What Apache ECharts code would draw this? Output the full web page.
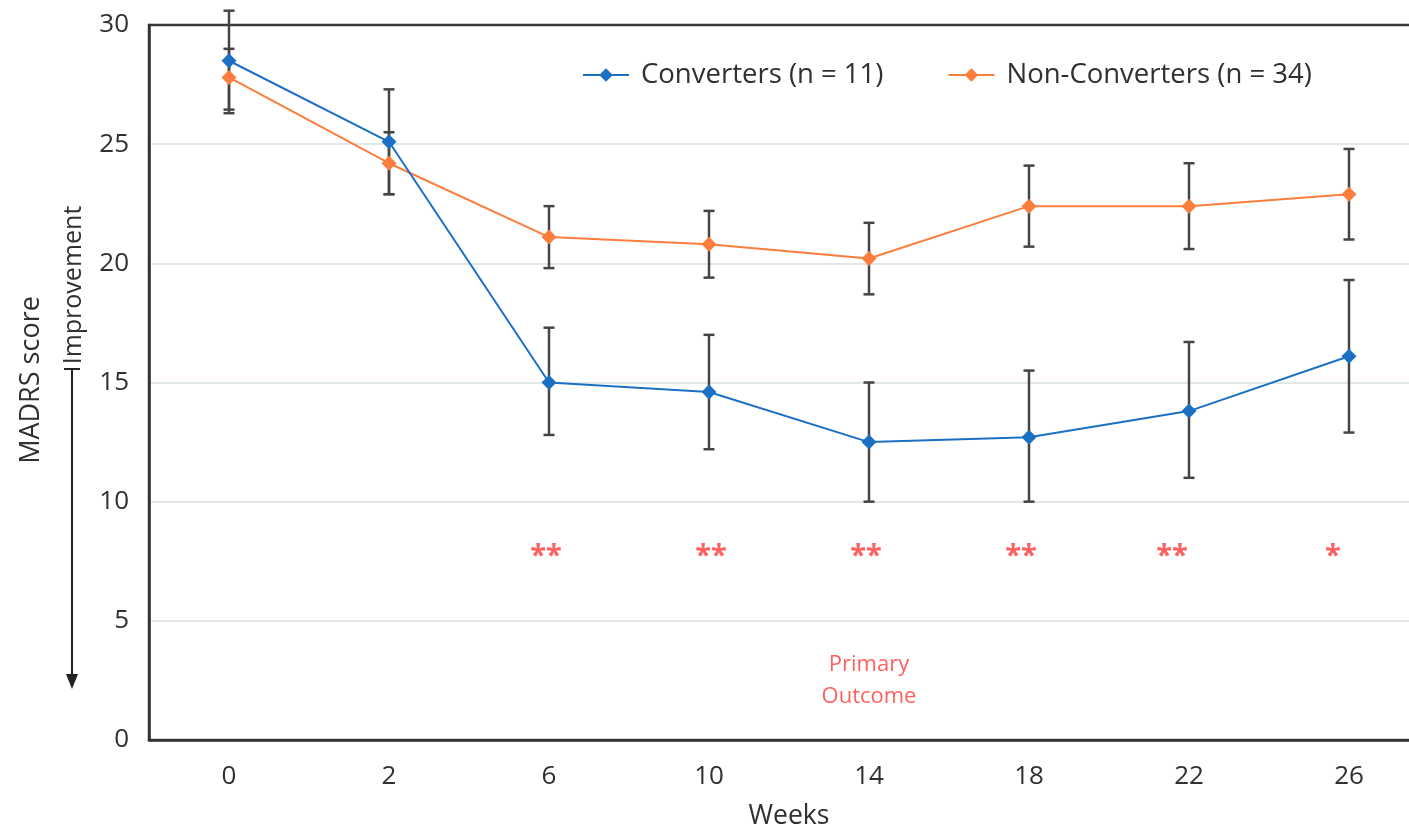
<!DOCTYPE html>
<html>
<head>
<meta charset="utf-8">
<script src="https://cdn.jsdelivr.net/npm/echarts@6/dist/echarts.min.js"></script>
<style>html,body{margin:0;padding:0;background:#fff;overflow:hidden;}#c{width:1429px;height:828px;}</style>
</head>
<body>
<div id="c"></div>
<script>
const weeks = ['0', '2', '6', '10', '14', '18', '22', '26'];
const converters = [28.5, 25.1, 15.0, 14.6, 12.5, 12.7, 13.8, 16.1];
const convUpper = [30.6, 27.3, 17.3, 17.0, 15.0, 15.5, 16.7, 19.3];
const convLower = [26.3, 22.9, 12.8, 12.2, 10.0, 10.0, 11.0, 12.9];
const nonConverters = [27.8, 24.2, 21.1, 20.8, 20.2, 22.4, 22.4, 22.9];
const nonUpper = [29.0, 25.5, 22.4, 22.2, 21.7, 24.1, 24.2, 24.8];
const nonLower = [26.45, 22.9, 19.8, 19.4, 18.7, 20.7, 20.6, 21.0];
const stars = ['', '', '**', '**', '**', '**', '**', '*'];
const starLevel = 8;
const yTicks = [0, 5, 10, 15, 20, 25, 30];
const noteText = 'Primary\nOutcome';
const noteWeekIndex = 4;
const noteLevel = 2.5;

const FONT = '"Open Sans", "Noto Sans", sans-serif';
const TXT = '#303030';
const BLUE = '#1c70c4';
const ORANGE = '#fc7d3c';
const RED = '#ff3838';
const starOffsets = [0, 0, -3, 2, -3, -8, -17, -16];

const chart = echarts.init(document.getElementById('c'), null, {renderer: 'canvas'});

function errData(lo, hi) {
  return lo.map((v, i) => [i, v, hi[i]]);
}
function errRender(params, api) {
  const x = api.value(0);
  const lo = api.coord([x, api.value(1)]);
  const hi = api.coord([x, api.value(2)]);
  const w = 5.5;
  const st = {stroke: '#454545', lineWidth: 2.5};
  return {
    type: 'group',
    children: [
      {type: 'line', shape: {x1: lo[0], y1: lo[1], x2: hi[0], y2: hi[1]}, style: st},
      {type: 'line', shape: {x1: lo[0] - w, y1: lo[1], x2: lo[0] + w, y2: lo[1]}, style: st},
      {type: 'line', shape: {x1: hi[0] - w, y1: hi[1], x2: hi[0] + w, y2: hi[1]}, style: st}
    ]
  };
}

const option = {
  animation: false,
  textStyle: {fontFamily: FONT},
  grid: {
    left: 149, right: 0, top: 25, bottom: 88,
    outerBoundsMode: 'none', containLabel: false,
    show: true, borderColor: '#383838', borderWidth: 2.5, backgroundColor: 'transparent'
  },
  legend: {
    top: 56, left: 577,
    itemWidth: 46, itemHeight: 17, itemGap: 64,
    textStyle: {fontSize: 27.5, color: TXT, fontFamily: FONT, padding: [0, 0, 0, 7]},
    data: ['Converters (n = 11)', 'Non-Converters (n = 34)']
  },
  xAxis: {
    type: 'category',
    data: weeks,
    boundaryGap: true,
    axisLine: {lineStyle: {color: '#333', width: 2.5}},
    axisTick: {show: false},
    axisLabel: {fontSize: 26, color: TXT, margin: 24, fontFamily: FONT},
    name: 'Weeks',
    nameLocation: 'middle',
    nameGap: 63,
    nameTextStyle: {fontSize: 26.5, color: TXT, fontFamily: FONT}
  },
  yAxis: {
    type: 'value',
    min: yTicks[0], max: yTicks[yTicks.length - 1], interval: yTicks[1] - yTicks[0],
    axisLine: {show: true, lineStyle: {color: '#333', width: 2.5}},
    axisTick: {show: false},
    axisLabel: {fontSize: 26, color: TXT, margin: 20, fontFamily: FONT},
    splitLine: {showMinLine: false, showMaxLine: false, lineStyle: {color: '#d6e0e0', width: 1.5}}
  },
  graphic: [
    {type: 'text', x: 31, y: 380, rotation: Math.PI / 2,
     style: {text: 'MADRS score', fontSize: 27, fill: TXT, fontFamily: FONT, align: 'center', verticalAlign: 'middle'}},
    {type: 'text', x: 74, y: 285, rotation: Math.PI / 2,
     style: {text: 'Improvement', fontSize: 25, fill: TXT, fontFamily: FONT, align: 'center', verticalAlign: 'middle'}},
    {type: 'line', shape: {x1: 64, y1: 369, x2: 80, y2: 369}, style: {stroke: '#222', lineWidth: 2}},
    {type: 'line', shape: {x1: 72, y1: 369, x2: 72, y2: 676}, style: {stroke: '#222', lineWidth: 2}},
    {type: 'polygon', shape: {points: [[66, 674], [78, 674], [72, 689]]}, style: {fill: '#222'}}
  ],
  series: [
    {
      type: 'custom', name: 'errC', renderItem: errRender, data: errData(convLower, convUpper),
      z: 1, silent: true, clip: false, encode: {x: 0, y: [1, 2]}
    },
    {
      type: 'custom', name: 'errN', renderItem: errRender, data: errData(nonLower, nonUpper),
      z: 1, silent: true, clip: false, encode: {x: 0, y: [1, 2]}
    },
    {
      name: 'Non-Converters (n = 34)', type: 'line', data: nonConverters, z: 3,
      symbol: 'diamond', symbolSize: 15, itemStyle: {color: ORANGE},
      lineStyle: {color: ORANGE, width: 2}
    },
    {
      name: 'Converters (n = 11)', type: 'line', data: converters, z: 4,
      symbol: 'diamond', symbolSize: 15, itemStyle: {color: BLUE},
      lineStyle: {color: BLUE, width: 2}
    },
    {
      type: 'scatter', symbolSize: 0, silent: true, z: 5,
      data: stars.map((s, i) => s ? {value: [i, starLevel], label: {formatter: s, offset: [starOffsets[i], 7]}} : null).filter(Boolean),
      label: {show: true, position: 'inside', fontSize: 29, fontWeight: 'bold', color: RED, fontFamily: FONT}
    },
    {
      type: 'scatter', symbolSize: 0, silent: true, z: 5,
      data: [{value: [noteWeekIndex, noteLevel]}],
      label: {show: true, position: 'inside', formatter: noteText, fontSize: 22, lineHeight: 32, color: RED, fontFamily: FONT, align: 'center'}
    }
  ]
};
chart.setOption(option);
</script>
</body>
</html>
